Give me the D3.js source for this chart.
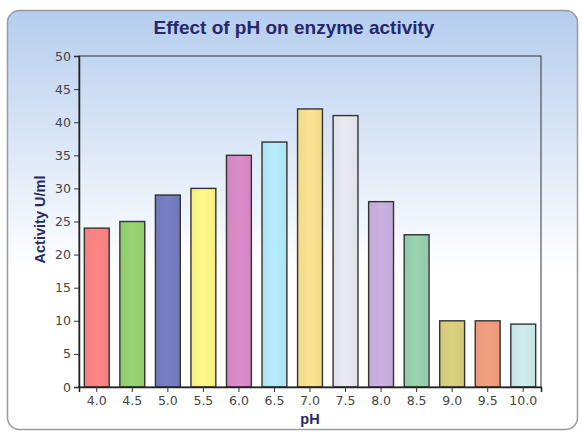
<!DOCTYPE html>
<html>
  <head>
    <script src="https://d3js.org/d3.v7.min.js"></script>
    <style>
      body { margin: 0; background: #fff; }
      text { font-family: "Liberation Sans", Arial, sans-serif; }
    </style>
  </head>
  <body>
    <div id="chart"></div>

    <script>
      const phLabels = ["4.0", "4.5", "5.0", "5.5", "6.0", "6.5", "7.0", "7.5", "8.0", "8.5", "9.0", "9.5", "10.0"];
      const activity = [24, 25, 29, 30, 35, 37, 42, 41, 28, 23, 10, 10, 9.5];
      const barColors = ["#f47f7f", "#92cb6e", "#7279ba", "#f5ee82", "#d386c2", "#ade2f1", "#f1d98c", "#e0e1e8", "#c2aad9", "#93caa9", "#d2c97a", "#e99879", "#c7e2e3"];
      const yTicks = [0, 5, 10, 15, 20, 25, 30, 35, 40, 45, 50];

      const width = 582;
      const height = 432;
      const margin = { top: 56, right: 41, bottom: 45, left: 79 };

      const svg = d3.select("#chart")
        .append("svg")
        .attr("width", width)
        .attr("height", height);

      const defs = svg.append("defs");
      const bg = defs.append("linearGradient")
        .attr("id", "bg")
        .attr("x1", 0).attr("y1", 0).attr("x2", 0).attr("y2", 1);
      bg.append("stop").attr("offset", "0%").attr("stop-color", "#b5cdee");
      bg.append("stop").attr("offset", "62%").attr("stop-color", "#ffffff");
      bg.append("stop").attr("offset", "100%").attr("stop-color", "#ffffff");

      // soft highlight on each bar
      barColors.forEach((c, i) => {
        const g = defs.append("linearGradient")
          .attr("id", "bar" + i)
          .attr("x1", 0).attr("y1", 0).attr("x2", 1).attr("y2", 0);
        g.append("stop").attr("offset", "0%").attr("stop-color", c);
        g.append("stop").attr("offset", "50%").attr("stop-color", d3.color(c).brighter(0.12));
        g.append("stop").attr("offset", "100%").attr("stop-color", c);
      });

      svg.append("rect")
        .attr("x", 7.5)
        .attr("y", 10.5)
        .attr("width", 570)
        .attr("height", 419)
        .attr("rx", 12)
        .attr("fill", "url(#bg)")
        .attr("stroke", "#9a9a9a")
        .attr("stroke-width", 1.5);

      const innerW = width - margin.left - margin.right;
      const innerH = height - margin.top - margin.bottom;

      const chart = svg.append("g")
        .attr("transform", `translate(${margin.left}, ${margin.top})`);

      const xScale = d3.scaleBand()
        .domain(phLabels)
        .range([0, innerW])
        .paddingInner(0.3)
        .paddingOuter(0.15);

      const yScale = d3.scaleLinear()
        .domain([0, 50])
        .range([innerH, 0]);

      chart.selectAll(".bar")
        .data(activity)
        .enter()
        .append("rect")
        .attr("class", "bar")
        .attr("x", (d, i) => xScale(phLabels[i]))
        .attr("y", d => yScale(d))
        .attr("width", xScale.bandwidth())
        .attr("height", d => innerH - yScale(d))
        .attr("fill", (d, i) => "url(#bar" + i + ")")
        .attr("stroke", "#333")
        .attr("stroke-width", 1.4);

      // frame
      chart.append("rect")
        .attr("x", 0)
        .attr("y", 0)
        .attr("width", innerW)
        .attr("height", innerH)
        .attr("fill", "none")
        .attr("stroke", "#333")
        .attr("stroke-width", 1);

      const yAxis = chart.append("g")
        .attr("class", "y-axis")
        .call(d3.axisLeft(yScale).tickValues(yTicks).tickSize(5).tickPadding(3));

      const xAxis = chart.append("g")
        .attr("class", "x-axis")
        .attr("transform", `translate(0, ${innerH})`)
        .call(d3.axisBottom(xScale).tickSize(5).tickPadding(4));

      [yAxis, xAxis].forEach(ax => {
        ax.select(".domain").attr("stroke", "#222").attr("stroke-width", 1.5);
        ax.selectAll(".tick line").attr("stroke", "#333");
        ax.selectAll(".tick text")
          .attr("fill", "#444")
          .style("font-size", "12.5px")
          .style("font-family", "'DejaVu Sans', sans-serif");
      });

      svg.append("text")
        .attr("x", 294)
        .attr("y", 34)
        .style("text-anchor", "middle")
        .style("font-size", "19px")
        .style("font-weight", "bold")
        .attr("fill", "#262868")
        .text("Effect of pH on enzyme activity");

      svg.append("text")
        .attr("transform", "rotate(-90)")
        .attr("x", -(margin.top + innerH / 2) + 2)
        .attr("y", 45)
        .style("text-anchor", "middle")
        .style("font-size", "14.5px")
        .style("font-weight", "bold")
        .attr("fill", "#262868")
        .text("Activity U/ml");

      svg.append("text")
        .attr("x", margin.left + innerW / 2)
        .attr("y", 424)
        .style("text-anchor", "middle")
        .style("font-size", "14.5px")
        .style("font-weight", "bold")
        .attr("fill", "#262868")
        .text("pH");
    </script>
  </body>
</html>
